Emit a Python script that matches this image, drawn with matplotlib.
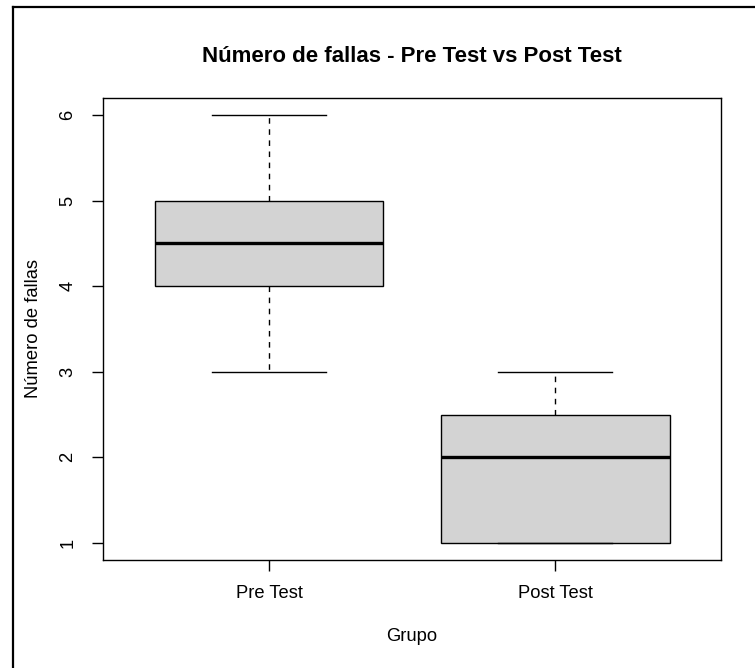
import matplotlib
matplotlib.use("Agg")
import matplotlib.pyplot as plt
from matplotlib.lines import Line2D

plt.rcParams['font.family'] = ['Liberation Sans', 'DejaVu Sans']

# five-number summaries for each group
grupos = ["Pre Test", "Post Test"]
minimos = [3, 1]
q1 = [4, 1]
medianas = [4.5, 2]
q3 = [5, 2.5]
maximos = [6, 3]

stats = []
for i in range(len(grupos)):
    stats.append({
        "label": grupos[i],
        "whislo": minimos[i],
        "q1": q1[i],
        "med": medianas[i],
        "q3": q3[i],
        "whishi": maximos[i],
        "fliers": [],
    })

fig = plt.figure(figsize=(7.55, 6.68), dpi=100)
ax = fig.add_axes([103 / 755, 108 / 668, 618 / 755, 462 / 668])

ax.bxp(stats, positions=[1, 2], widths=0.8, patch_artist=True,
       boxprops=dict(facecolor="#d3d3d3", edgecolor="black", linewidth=1.0),
       medianprops=dict(color="black", linewidth=2.4),
       whiskerprops=dict(color="black", linewidth=1.0, linestyle=(0, (4, 4))),
       capprops=dict(color="black", linewidth=1.0),
       capwidths=0.4)

ax.set_xlim(0.42, 2.58)
ax.set_ylim(0.8, 6.2)
ax.set_yticks([1, 2, 3, 4, 5, 6])
ax.set_yticklabels(["1", "2", "3", "4", "5", "6"], rotation=90, va="center")
ax.tick_params(axis="both", length=8, width=1.0, labelsize=13.2, colors="black")
ax.tick_params(axis="y", pad=11)
ax.tick_params(axis="x", pad=10)
for s in ax.spines.values():
    s.set_linewidth(1.0)

ax.set_title("Número de fallas - Pre Test vs Post Test", fontsize=16,
             fontweight="bold", pad=26)
ax.set_xlabel("Grupo", fontsize=13.2, labelpad=19)
ax.set_ylabel("Número de fallas", fontsize=13.2, labelpad=13)

# frame around the figure (left and top edges)
fig.add_artist(Line2D([13 / 755, 13 / 755], [0, 1 - 7 / 668],
                      transform=fig.transFigure, color="black", linewidth=1.6))
fig.add_artist(Line2D([13 / 755, 1], [1 - 7 / 668, 1 - 7 / 668],
                      transform=fig.transFigure, color="black", linewidth=1.6))

fig.savefig("out.png", dpi=100)
